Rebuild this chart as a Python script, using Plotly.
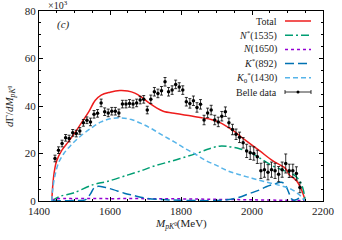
import plotly.graph_objects as go

# ---------------- data ----------------
belle_m = [1445, 1455, 1465, 1475, 1485, 1495, 1505, 1515, 1525, 1535,
           1545, 1555, 1565, 1575, 1585, 1595, 1605, 1615, 1625, 1635,
           1645, 1655, 1665, 1675, 1685, 1695, 1705, 1715, 1725, 1735,
           1745, 1755, 1765, 1775, 1785, 1795, 1805, 1815, 1825, 1835,
           1845, 1855, 1865, 1875, 1885, 1895, 1905, 1915, 1925, 1935,
           1945, 1955, 1965, 1975, 1985, 1995, 2005, 2015, 2025, 2035,
           2045, 2055, 2065, 2075, 2085, 2095, 2105, 2115, 2125, 2135]
belle_y = [17.9, 21.4, 24.2, 26.6, 26.3, 28.7, 28.4, 29.5, 32.9, 34.0,
           33.3, 36.5, 36.9, 41.3, 37.6, 37.1, 37.8, 37.8, 37.1, 40.8,
           40.8, 41.1, 40.8, 41.3, 42.5, 42.8, 38.3, 42.8, 46.0, 45.3,
           46.4, 50.2, 46.0, 46.7, 49.1, 48.0, 46.7, 41.8, 41.1, 42.2,
           39.4, 40.7, 34.1, 37.1, 38.3, 34.1, 33.3, 35.7, 37.6, 32.9,
           30.1, 28.1, 26.8, 24.5, 21.1, 20.3, 20.0, 18.6, 12.7, 13.2,
           12.1, 13.2, 12.7, 11.3, 13.2, 15.8, 12.7, 12.7, 11.6, 5.7]
belle_err = [1.4, 1.4, 1.4, 1.4, 1.4, 1.4, 1.4, 1.4, 1.4, 1.4,
             1.6, 1.6, 1.6, 1.6, 1.6, 1.6, 1.6, 1.6, 1.6, 1.6,
             1.6, 1.6, 1.6, 1.6, 1.6, 1.6, 1.6, 1.8, 1.8, 1.8,
             1.8, 1.8, 1.8, 1.8, 1.8, 1.8, 1.8, 1.8, 2.0, 2.0,
             2.0, 2.0, 2.0, 2.0, 2.0, 2.0, 2.0, 2.0, 2.0, 2.0,
             2.2, 2.2, 2.2, 2.2, 2.8, 2.8, 2.8, 2.8, 3.2, 3.2,
             3.2, 3.2, 3.2, 3.2, 3.2, 4.0, 2.8, 2.8, 2.8, 2.2]

total_m = [1436, 1438, 1441, 1445, 1450, 1465, 1483, 1500, 1520, 1540,
           1558, 1575, 1600, 1628, 1650, 1670, 1690, 1710, 1730, 1750,
           1785, 1830, 1860, 1885, 1910, 1945, 1983, 2021, 2058, 2086,
           2096, 2105, 2119, 2128, 2138, 2145, 2150]
total_y = [0, 5, 10, 14, 17, 21.5, 25, 28.5, 33, 37.5,
           42.3, 44.6, 45.8, 46.5, 46.3, 45.4, 43.6, 41.3, 39.3, 37.8,
           36.8, 35.8, 35.0, 34.3, 33.0, 29.8, 25.4, 21.2, 17.0, 14.6,
           13.4, 11.0, 9.4, 8.0, 5.2, 2.5, 0]

nstar_m = [1436, 1441, 1460, 1497, 1553, 1591, 1647, 1693, 1722, 1787,
           1843, 1880, 1908, 1930, 1965, 1990, 2025, 2058, 2090, 2114,
           2124, 2136, 2143, 2147, 2150]
nstar_y = [0, 0.5, 2.0, 3.4, 6.9, 8.2, 10.8, 13.0, 14.6, 17.4,
           20.0, 22.0, 23.1, 23.0, 22.0, 20.8, 17.8, 14.8, 12.8, 11.4,
           10.3, 8.0, 5.5, 3.0, 0]

n1650_m = [1436, 1445, 1500, 1600, 1700, 1800, 1900, 2000, 2100, 2140, 2150]
n1650_y = [0, 0.8, 1.0, 1.0, 1.0, 0.9, 0.7, 0.5, 0.3, 0.2, 0]

kstar_m = [1436, 1500, 1530, 1545, 1555, 1567, 1585, 1609, 1640, 1665,
           1700, 1750, 1800, 1900, 1930, 1960, 1990, 2020, 2040, 2060,
           2082, 2091, 2098, 2105, 2112, 2118, 2128, 2136, 2145, 2150]
kstar_y = [0, 0.2, 0.5, 3.0, 5.5, 6.2, 5.8, 4.8, 3.3, 2.4,
           1.2, 0.6, 0.3, 0.2, 0.5, 1.4, 3.0, 4.6, 6.0, 7.0,
           7.9, 7.3, 5.5, 3.0, 0.8, 0.3, 0.8, 1.4, 0.8, 0]

k0_m = [1436, 1438, 1444, 1455, 1470, 1490, 1520, 1550, 1575, 1600,
        1630, 1660, 1690, 1720, 1750, 1780, 1810, 1840, 1870, 1900,
        1930, 1960, 2000, 2040, 2080, 2110, 2130, 2145, 2150]
k0_y = [0, 4, 10, 16, 20, 23.5, 27.7, 31.0, 33.3, 34.6,
        35.0, 34.3, 32.5, 30.2, 27.5, 25.0, 22.2, 19.8, 17.0, 15.0,
        12.8, 11.3, 9.6, 8.0, 6.5, 5.0, 3.0, 1.0, 0]

x_ticks = [1400, 1600, 1800, 2000, 2200]
y_ticks = [0, 20, 40, 60, 80]

legend_labels = ["Total", "<i>N</i><sup>*</sup>(1535)", "<i>N</i>(1650)",
                 "<i>K</i><sup>*</sup>(892)", "<i>K</i><sub>0</sub><sup>*</sup>(1430)",
                 "Belle data"]

# ---------------- style ----------------
FONT = "Liberation Serif"
C_TOTAL = "#ee1c1c"
C_NSTAR = "#009e73"
C_N1650 = "#9400d3"
C_KSTAR = "#0072b2"
C_K0 = "#56b4e9"

styles = [
    dict(color=C_TOTAL, dash="solid"),
    dict(color=C_NSTAR, dash="8px,3px,2px,3px"),
    dict(color=C_N1650, dash="3px,3px"),
    dict(color=C_KSTAR, dash="9px,4px"),
    dict(color=C_K0, dash="5px,3px"),
]

W, H = 342, 240
L, R, T, B = 39, 19, 11, 39
PW, PH = W - L - R, H - T - B

fig = go.Figure()

curves = [(total_m, total_y), (nstar_m, nstar_y), (n1650_m, n1650_y),
          (kstar_m, kstar_y), (k0_m, k0_y)]
for (xm, ym), st in zip(curves, styles):
    fig.add_trace(go.Scatter(x=xm, y=ym, mode="lines", line_shape="spline",
                             line=dict(color=st["color"], dash=st["dash"], width=1.5),
                             showlegend=False, hoverinfo="skip"))

fig.add_trace(go.Scatter(
    x=belle_m, y=belle_y, mode="markers",
    marker=dict(color="black", size=3.5),
    error_y=dict(type="data", array=belle_err, color="black", thickness=0.8, width=1.5),
    showlegend=False))

axis_common = dict(showline=True, linecolor="black", linewidth=1, mirror="allticks",
                   ticks="inside", ticklen=4, tickcolor="black", showgrid=False,
                   zeroline=False, tickfont=dict(family=FONT, size=11, color="#222"))

fig.update_xaxes(range=[1400, 2200], tickvals=x_ticks,
                 minor=dict(ticks="inside", dtick=50, ticklen=2, tickcolor="black", showgrid=False),
                 **axis_common)
fig.update_yaxes(range=[0, 80], tickvals=y_ticks,
                 minor=dict(ticks="inside", dtick=5, ticklen=2, tickcolor="black", showgrid=False),
                 **axis_common)

def px_x(p):
    return (p - L) / PW

def px_y(p):
    return (H - B - p) / PH

def ann(x, y, text, size=11, xanchor="center", **kw):
    return dict(x=px_x(x), y=px_y(y), xref="paper", yref="paper",
                xanchor=xanchor, yanchor="middle", text=text, showarrow=False,
                font=dict(family=FONT, size=size, color="#222"), **kw)

annotations = [
    ann(10, 106, "<i>d</i>Γ/<i>dM</i><sub><i>pK</i><sup>0</sup></sub>", textangle=-90),
    ann(181, 224, "<i>M</i><sub><i>pK</i><sup>0</sup></sub>(MeV)"),
    ann(46, 5, "×10<sup>3</sup>", size=10, xanchor="left"),
    ann(63, 24, "<i>(c)</i>"),
]

leg_y = [21, 35.2, 49.4, 63.6, 77.8, 92]
shapes = []
for i, (lab, yy) in enumerate(zip(legend_labels, leg_y)):
    annotations.append(ann(279, yy, lab, size=10, xanchor="right"))
    if i < 5:
        st = styles[i]
        shapes.append(dict(type="line", xref="paper", yref="paper",
                           x0=px_x(285), x1=px_x(311), y0=px_y(yy), y1=px_y(yy),
                           line=dict(color=st["color"], dash=st["dash"], width=1.5)))
    else:
        shapes.append(dict(type="line", xref="paper", yref="paper",
                           x0=px_x(285), x1=px_x(311), y0=px_y(yy), y1=px_y(yy),
                           line=dict(color="black", width=0.8)))
        for xe in (285, 311):
            shapes.append(dict(type="line", xref="paper", yref="paper",
                               x0=px_x(xe), x1=px_x(xe), y0=px_y(yy - 2), y1=px_y(yy + 2),
                               line=dict(color="black", width=0.8)))
        shapes.append(dict(type="circle", xref="paper", yref="paper",
                           x0=px_x(296.5), x1=px_x(299.5), y0=px_y(yy - 1.5), y1=px_y(yy + 1.5),
                           fillcolor="black", line=dict(color="black", width=0)))

fig.update_layout(width=W, height=H, margin=dict(l=L, r=R, t=T, b=B, autoexpand=False),
                  plot_bgcolor="white", paper_bgcolor="white",
                  annotations=annotations, shapes=shapes, showlegend=False)

fig.write_html("out.html", config={"displayModeBar": False},
               post_script="document.body.style.margin='0';document.body.style.overflow='hidden';")
